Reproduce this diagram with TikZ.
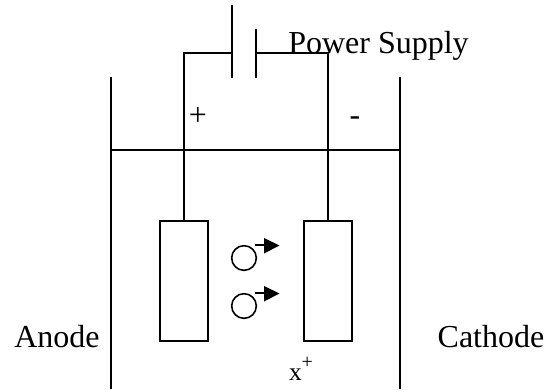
\documentclass[tikz,border=0pt]{standalone}
\usepackage{fontspec}
\setmainfont{Liberation Serif}
\begin{document}
\begin{tikzpicture}[x=0.75pt,y=-0.75pt,
  wire/.style={draw=black,line width=1.5pt},
  thinwire/.style={draw=black,line width=1.3pt},
  electrode/.style={draw=black,line width=1.5pt,fill=white,minimum width=36pt,minimum height=90pt,inner sep=0pt},
  ion/.style={circle,draw=black,line width=1.2pt,minimum size=18.5pt,inner sep=0pt},
  head/.style={fill=black,draw=none},
  lab/.style={anchor=base,inner sep=0pt,font=\fontsize{24pt}{24pt}\selectfont},
  smalllab/.style={anchor=base,inner sep=0pt,font=\fontsize{19pt}{19pt}\selectfont}]
\useasboundingbox (0,0) rectangle (545,389);
% tank
\coordinate (wlt) at (111,77); \coordinate (wlb) at (111,389);
\coordinate (wrt) at (400,77); \coordinate (wrb) at (400,389);
\coordinate (sl) at (111,150); \coordinate (sr) at (400,150);
\draw[wire] (wlt) -- (wlb);
\draw[wire] (wrt) -- (wrb);
\draw[wire] (sl) -- (sr);
% electrodes
\node[electrode] (an) at (184,281) {};
\node[electrode] (ca) at (328,281) {};
% battery
\coordinate (p1t) at (232,5); \coordinate (p1b) at (232,78); \coordinate (p1m) at (232,53);
\coordinate (p2t) at (256,29); \coordinate (p2b) at (256,78); \coordinate (p2m) at (256,53);
\coordinate (cl) at (184,53); \coordinate (cr) at (328,53);
\draw[wire] (p1t) -- (p1b);
\draw[wire] (p2t) -- (p2b);
\draw[wire] (p1m) -- (cl) -- (an.north);
\draw[wire] (p2m) -- (cr) -- (ca.north);
% ions
\node[ion] (i1) at (244,258) {};
\node[ion] (i2) at (244,306) {};
\coordinate (a1s) at (255,245); \coordinate (a1e) at (265,245);
\coordinate (a2s) at (255,293); \coordinate (a2e) at (265,293);
\draw[thinwire] (a1s) -- (a1e);
\draw[thinwire] (a2s) -- (a2e);
\fill[head] (264,238) -- (279.5,245.5) -- (264,253.5) -- cycle;
\fill[head] (264,286) -- (279.5,293.5) -- (264,301.5) -- cycle;
% labels
\node[lab] (ps) at (378.5,53) {Power Supply};
\node[lab] (plus) at (198,125) {+};
\node[lab] (minus) at (355,125) {-};
\node[lab] (anode) at (57,347) {Anode};
\node[lab] (cathode) at (491,347) {Cathode};
\node[smalllab] (x) at (301,380) {x\raisebox{9pt}{\fontsize{15pt}{15pt}\selectfont +}};
\end{tikzpicture}
\end{document}
